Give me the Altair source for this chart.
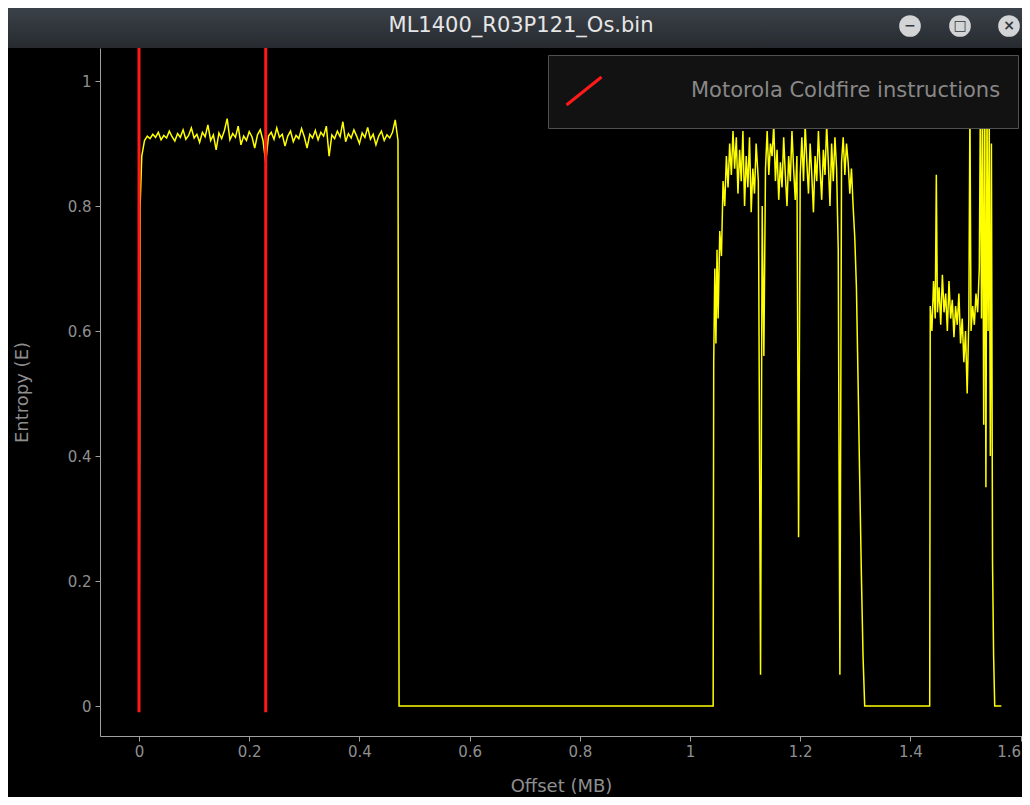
import altair as alt
import pandas as pd

WINDOW_TITLE = "ML1400_R03P121_Os.bin"
X_TITLE = "Offset (MB)"
Y_TITLE = "Entropy (E)"
SIGNATURE = "Motorola Coldfire instructions"
signature_offsets = [0.0, 0.23]
x_ticks = [0, 0.2, 0.4, 0.6, 0.8, 1.0, 1.2, 1.4, 1.6]
y_ticks = [0, 0.2, 0.4, 0.6, 0.8, 1.0]
window_buttons = ["\u2212", "\u25a1", "\u00d7"]

seg1_offset = [0.000, 0.002, 0.005,
    0.010, 0.015, 0.020, 0.025, 0.030, 0.035, 0.040, 0.045, 0.050, 0.055,
    0.060, 0.065, 0.070, 0.075, 0.080, 0.085, 0.090, 0.095, 0.100, 0.105,
    0.110, 0.115, 0.120, 0.125, 0.130, 0.135, 0.140, 0.145, 0.150, 0.155,
    0.160, 0.165, 0.170, 0.175, 0.180, 0.185, 0.190, 0.195, 0.200, 0.205,
    0.210, 0.215, 0.220, 0.225, 0.230, 0.235, 0.240, 0.245, 0.250, 0.255,
    0.260, 0.265, 0.270, 0.275, 0.280, 0.285, 0.290, 0.295, 0.300, 0.305,
    0.310, 0.315, 0.320, 0.325, 0.330, 0.335, 0.340, 0.345, 0.350, 0.355,
    0.360, 0.365, 0.370, 0.375, 0.380, 0.385, 0.390, 0.395, 0.400, 0.405,
    0.410, 0.415, 0.420, 0.425, 0.430, 0.435, 0.440, 0.445, 0.450, 0.455,
    0.460, 0.465, 0.470, 0.472]
seg1_entropy = [0.00, 0.80, 0.88,
    0.905, 0.912, 0.908, 0.915, 0.910, 0.918, 0.906, 0.913, 0.909, 0.920,
    0.911, 0.904, 0.916, 0.910, 0.922, 0.907, 0.913, 0.925, 0.909, 0.915,
    0.902, 0.918, 0.911, 0.930, 0.905, 0.914, 0.890, 0.917, 0.908, 0.921,
    0.940, 0.906, 0.916, 0.910, 0.928, 0.898, 0.912, 0.905, 0.919, 0.911,
    0.893, 0.914, 0.922, 0.905, 0.870, 0.912, 0.918, 0.907, 0.925, 0.910,
    0.915, 0.896, 0.912, 0.920, 0.903, 0.913, 0.908, 0.924, 0.911, 0.893,
    0.915, 0.909, 0.921, 0.906, 0.918, 0.912, 0.928, 0.880, 0.914, 0.908,
    0.920, 0.911, 0.935, 0.903, 0.916, 0.909, 0.922, 0.912, 0.900, 0.917,
    0.910, 0.926, 0.907, 0.915, 0.898, 0.912, 0.920, 0.905, 0.914, 0.909,
    0.918, 0.938, 0.905, 0.000]

seg2_offset = [1.042, 1.043, 1.045, 1.047, 1.049, 1.051,
    1.054, 1.057, 1.060, 1.063, 1.066, 1.069, 1.072, 1.075, 1.078, 1.081,
    1.084, 1.087, 1.090, 1.093, 1.096, 1.099, 1.102, 1.105, 1.108, 1.111,
    1.114, 1.117, 1.120, 1.124, 1.128,
    1.131, 1.134, 1.137, 1.140, 1.143, 1.146, 1.149, 1.152, 1.155, 1.158,
    1.161, 1.164, 1.167, 1.170, 1.173, 1.176, 1.179, 1.182, 1.185, 1.188,
    1.191, 1.194, 1.197, 1.200, 1.203, 1.206, 1.209, 1.212, 1.215, 1.218,
    1.221, 1.224, 1.227, 1.230, 1.233, 1.236, 1.239, 1.242, 1.245, 1.248,
    1.251, 1.254, 1.257, 1.260, 1.263, 1.266, 1.269, 1.272, 1.275, 1.278,
    1.281, 1.284, 1.287, 1.290, 1.293, 1.296, 1.299, 1.302, 1.305, 1.308,
    1.311, 1.314, 1.317]
seg2_entropy = [0.00, 0.55, 0.70, 0.58, 0.73, 0.62,
    0.76, 0.72, 0.84, 0.80, 0.88, 0.83, 0.90, 0.85, 0.92, 0.86,
    0.91, 0.82, 0.89, 0.84, 0.92, 0.80, 0.88, 0.83, 0.91, 0.79,
    0.86, 0.82, 0.90, 0.84, 0.05,
    0.80, 0.56, 0.86, 0.92, 0.85, 0.90, 0.88, 0.93, 0.84, 0.89,
    0.81, 0.87, 0.83, 0.91, 0.85, 0.80, 0.88, 0.84, 0.92, 0.86,
    0.81, 0.88, 0.27, 0.85, 0.91, 0.84, 0.93, 0.87, 0.82, 0.90,
    0.85, 0.79, 0.88, 0.84, 0.92, 0.86, 0.81, 0.89, 0.85, 0.93,
    0.87, 0.80, 0.90, 0.84, 0.91, 0.86, 0.73, 0.05, 0.87, 0.91,
    0.85, 0.90, 0.87, 0.82, 0.86, 0.80, 0.75, 0.67, 0.52, 0.36,
    0.21, 0.08, 0.00]

seg3_offset = [1.435, 1.436, 1.439, 1.442, 1.445, 1.447, 1.449,
    1.452, 1.455, 1.458, 1.461, 1.464, 1.467, 1.470, 1.473, 1.476, 1.479,
    1.482, 1.485, 1.488, 1.491, 1.494, 1.497, 1.500, 1.503, 1.506,
    1.508, 1.510, 1.513, 1.516, 1.519, 1.522, 1.525,
    1.527, 1.529, 1.531, 1.533, 1.535, 1.537, 1.539, 1.541, 1.543, 1.545,
    1.547, 1.549, 1.551, 1.553, 1.565]
seg3_entropy = [0.00, 0.64, 0.60, 0.68, 0.62, 0.85, 0.63,
    0.67, 0.61, 0.69, 0.63, 0.66, 0.60, 0.68, 0.62, 0.65, 0.59,
    0.64, 0.61, 0.66, 0.58, 0.62, 0.55, 0.60, 0.50, 0.62,
    0.96, 0.60, 0.64, 0.61, 0.66, 0.63, 0.70,
    0.97, 0.62, 0.95, 0.45, 0.97, 0.35, 0.96, 0.60, 0.94, 0.40,
    0.90, 0.23, 0.08, 0.00, 0.00]

offsets = seg1_offset + seg2_offset + seg3_offset
entropy = seg1_entropy + seg2_entropy + seg3_entropy
n = min(len(offsets), len(entropy))
df = pd.DataFrame({"offset": offsets[:n], "entropy": entropy[:n], "order": list(range(n))})
sig_df = pd.DataFrame({"offset": signature_offsets, "sig": [SIGNATURE] * len(signature_offsets)})

W, H = 922, 688
Y_LO, Y_HI = -0.048, 1.053
FONT = "DejaVu Sans"
GRAY = "#8f8f8f"

xscale = alt.Scale(domain=[-0.0708, 1.6025], nice=False, zero=False)
yscale = alt.Scale(domain=[Y_LO, Y_HI], nice=False, zero=False)

x_axis = alt.Axis(
    values=x_ticks, format="~g", title=X_TITLE, grid=False,
    labelFont=FONT, labelFontSize=15, labelColor=GRAY, labelPadding=3,
    labelOverlap=False,
    labelAlign={"condition": {"test": "datum.value >= 1.59", "value": "right"}, "value": "center"},
    titleFont=FONT, titleFontSize=18, titleColor=GRAY, titleFontWeight="normal", titlePadding=18,
    domainColor="#a0a0a0", tickColor="#a0a0a0", tickSize=5,
)
y_axis = alt.Axis(
    values=y_ticks, format="~g", title=Y_TITLE, grid=False,
    labelFont=FONT, labelFontSize=15, labelColor=GRAY, labelPadding=4,
    titleFont=FONT, titleFontSize=18, titleColor=GRAY, titleFontWeight="normal", titlePadding=36,
    domainColor="#a0a0a0", tickColor="#a0a0a0", tickSize=5,
)

# window title bar (decoration)
bar_bg = alt.Chart(pd.DataFrame({"t": [WINDOW_TITLE]})).mark_rect(
    color=alt.Gradient(gradient="linear", x1=0, x2=0, y1=0, y2=1,
                       stops=[alt.GradientStop(color="#3b4148", offset=0),
                              alt.GradientStop(color="#272b30", offset=1)])
).encode(x=alt.value(-92), x2=alt.value(W), y=alt.value(-40), y2=alt.value(0))

bar_text = alt.Chart(pd.DataFrame({"t": [WINDOW_TITLE]})).mark_text(
    font=FONT, fontSize=21, color="#e6e6e6", align="center", baseline="middle"
).encode(text="t:N", x=alt.value(421), y=alt.value(-22))

button_layers = []
for i, glyph in enumerate(window_buttons):
    bx = [810, 860, 909][i]
    bdf = pd.DataFrame({"g": [glyph]})
    button_layers.append(alt.Chart(bdf).mark_circle(size=470, color="#d2d4d6", opacity=1).encode(
        x=alt.value(bx), y=alt.value(-22)))
    button_layers.append(alt.Chart(bdf).mark_text(font=FONT, fontSize=14, fontWeight="bold",
                                                  color="#33383d", align="center", baseline="middle").encode(
        text="g:N", x=alt.value(bx), y=alt.value(-22)))

line = alt.Chart(df).mark_line(color="#ffff00", strokeWidth=1.5).encode(
    x=alt.X("offset:Q", scale=xscale, axis=x_axis),
    y=alt.Y("entropy:Q", scale=yscale, axis=y_axis),
    order="order:Q",
)

rules = alt.Chart(sig_df).mark_rule(strokeWidth=3).encode(
    x=alt.X("offset:Q", scale=xscale),
    y=alt.datum(-0.01),
    y2=alt.datum(Y_HI),
    color=alt.Color("sig:N", scale=alt.Scale(domain=[SIGNATURE], range=["#ff1a1a"]),
                    legend=alt.Legend(title=None, orient="none", legendX=448, legendY=7,
                                      padding=17, fillColor="#121212", strokeColor="#505050",
                                      cornerRadius=0, labelFont=FONT, labelFontSize=21,
                                      labelColor="#888888", labelOffset=88, labelLimit=500,
                                      symbolType="M-1,0.8L1,-0.8", symbolSize=1225,
                                      symbolStrokeWidth=3)),
)

chart = alt.layer(bar_bg, bar_text, *button_layers, line, rules).properties(
    width=W, height=H, background="#000000",
    autosize=alt.AutoSizeParams(type="none"),
    padding={"left": 92, "top": 40, "right": 0, "bottom": 61},
).configure_view(strokeWidth=0)

chart.save("out.html", embed_options={"renderer": "svg", "actions": False})
